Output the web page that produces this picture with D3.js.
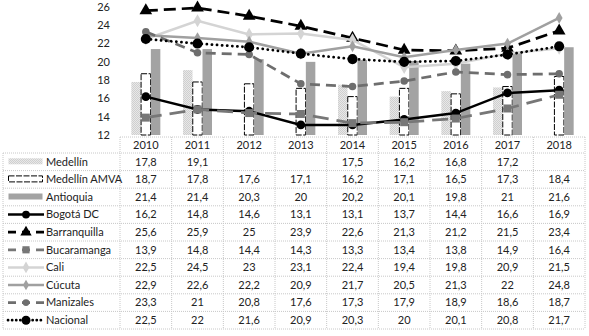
<!DOCTYPE html>
<html>
<head>
<meta charset="utf-8">
<script src="https://cdn.jsdelivr.net/npm/d3@7"></script>
<style>
  body { margin: 0; background: #fff; }
  svg { font-family: Lato, "Open Sans", sans-serif; }
</style>
</head>
<body>
<svg id="chart"></svg>
<script>
// datos
const years = ["2010", "2011", "2012", "2013", "2014", "2015", "2016", "2017", "2018"];
const medellin = [17.8, 19.1, null, null, 17.5, 16.2, 16.8, 17.2, null];
const medellinAMVA = [18.7, 17.8, 17.6, 17.1, 16.2, 17.1, 16.5, 17.3, 18.4];
const antioquia = [21.4, 21.4, 20.3, 20, 20.2, 20.1, 19.8, 21, 21.6];
const bogota = [16.2, 14.8, 14.6, 13.1, 13.1, 13.7, 14.4, 16.6, 16.9];
const barranquilla = [25.6, 25.9, 25, 23.9, 22.6, 21.3, 21.2, 21.5, 23.4];
const bucaramanga = [13.9, 14.8, 14.4, 14.3, 13.3, 13.4, 13.8, 14.9, 16.4];
const cali = [22.5, 24.5, 23, 23.1, 22.4, 19.4, 19.8, 20.9, 21.5];
const cucuta = [22.9, 22.6, 22.2, 20.9, 21.7, 20.5, 21.3, 22, 24.8];
const manizales = [23.3, 21, 20.8, 17.6, 17.3, 17.9, 18.9, 18.6, 18.7];
const nacional = [22.5, 22, 21.6, 20.9, 20.3, 20, 20.1, 20.8, 21.7];
const yTicks = [12, 14, 16, 18, 20, 22, 24, 26];

const width = 589, height = 336;
const svg = d3.select("#chart").attr("width", width).attr("height", height);

const plotLeft = 120, plotRight = 585, plotTop = 7, plotBottom = 135;
const rowTop = 137, headH = 16, rowH = 17.6;

const x = d3.scaleBand().domain(years).range([plotLeft, plotRight]);
const y = d3.scaleLinear().domain([12, 26]).range([plotBottom, plotTop]);

// patron Medellín
const defs = svg.append("defs");
const pat = defs.append("pattern").attr("id", "dots")
  .attr("width", 2).attr("height", 2).attr("patternUnits", "userSpaceOnUse");
pat.append("rect").attr("width", 2).attr("height", 2).attr("fill", "#e8e8e8");
pat.append("rect").attr("width", 1).attr("height", 1).attr("fill", "#cfcfcf");
pat.append("rect").attr("x", 1).attr("y", 1).attr("width", 1).attr("height", 1).attr("fill", "#cfcfcf");

const barSeries = [
  { name: "Medellín", values: medellin, fill: "url(#dots)", stroke: "none", dash: null },
  { name: "Medellín AMVA", values: medellinAMVA, fill: "#fff", stroke: "#000", dash: "6,1.5" },
  { name: "Antioquia", values: antioquia, fill: "#a3a3a3", stroke: "none", dash: null }
];

const lineSeries = [
  { name: "Bogotá DC", values: bogota, color: "#000", width: 2.5, dash: null, sym: d3.symbolCircle, size: 60 },
  { name: "Barranquilla", values: barranquilla, color: "#000", width: 2.75, dash: "12,6", sym: d3.symbolTriangle, size: 70 },
  { name: "Bucaramanga", values: bucaramanga, color: "#777", width: 2.75, dash: "16,8", sym: d3.symbolSquare, size: 64 },
  { name: "Cali", values: cali, color: "#d4d4d4", width: 2.5, dash: null, sym: d3.symbolDiamond, size: 50 },
  { name: "Cúcuta", values: cucuta, color: "#a0a0a0", width: 2.5, dash: null, sym: d3.symbolDiamond, size: 40 },
  { name: "Manizales", values: manizales, color: "#6e6e6e", width: 2.75, dash: "10,6", sym: d3.symbolCircle, size: 45 },
  { name: "Nacional", values: nacional, color: "#000", width: 2.75, dash: "0.1,5", sym: d3.symbolCircle, size: 80 }
];

// barras
const bw = 9.5;
const offsets = [-14.5, -4.75, 5];
barSeries.forEach((s, i) => {
  svg.append("g").selectAll("rect")
    .data(years.map((yr, j) => ({ yr, v: s.values[j] })).filter(d => d.v != null))
    .join("rect")
    .attr("x", d => x(d.yr) + x.bandwidth() / 2 + offsets[i])
    .attr("y", d => y(d.v))
    .attr("width", bw)
    .attr("height", d => plotBottom - y(d.v))
    .attr("fill", s.fill)
    .attr("stroke", s.stroke)
    .attr("stroke-width", 1)
    .attr("stroke-dasharray", s.dash);
});

// lineas
const line = d3.line()
  .x((d, i) => x(years[i]) + x.bandwidth() / 2)
  .y(d => y(d));

lineSeries.forEach(s => {
  const g = svg.append("g");
  g.append("path")
    .attr("d", line(s.values))
    .attr("fill", "none")
    .attr("stroke", s.color)
    .attr("stroke-width", s.width)
    .attr("stroke-linecap", s.dash && s.dash.startsWith("0.1") ? "round" : "butt")
    .attr("stroke-dasharray", s.dash);
  g.selectAll("path.m")
    .data(s.values)
    .join("path")
    .attr("class", "m")
    .attr("transform", (d, i) => `translate(${x(years[i]) + x.bandwidth() / 2},${y(d)})`)
    .attr("d", d3.symbol(s.sym, s.size))
    .attr("fill", s.color);
});

// eje Y
svg.append("g").selectAll("text")
  .data(yTicks)
  .join("text")
  .attr("x", 110)
  .attr("y", d => y(d))
  .attr("dy", "0.35em")
  .attr("text-anchor", "end")
  .attr("font-size", 11)
  .attr("fill", "#222")
  .text(d => d);

// tabla
const grid = "#c8c8c8";
const tbl = svg.append("g");
const nRows = barSeries.length + lineSeries.length;
const tableBottom = rowTop + headH + nRows * rowH;

// lineas horizontales
tbl.append("line").attr("x1", plotLeft).attr("x2", plotRight).attr("y1", rowTop).attr("y2", rowTop)
  .attr("stroke", grid).attr("stroke-dasharray", "1,1");
d3.range(nRows + 1).forEach(r => {
  const yy = rowTop + headH + r * rowH;
  tbl.append("line").attr("x1", 3).attr("x2", plotRight).attr("y1", yy).attr("y2", yy)
    .attr("stroke", grid).attr("stroke-dasharray", "1,1");
});
// lineas verticales
tbl.append("line").attr("x1", 3).attr("x2", 3).attr("y1", rowTop + headH).attr("y2", tableBottom)
  .attr("stroke", grid).attr("stroke-dasharray", "1,1");
years.concat([null]).forEach(yr => {
  const xx = yr ? x(yr) : plotRight;
  tbl.append("line").attr("x1", xx).attr("x2", xx).attr("y1", rowTop).attr("y2", tableBottom)
    .attr("stroke", grid).attr("stroke-dasharray", "1,1");
});

// encabezado
tbl.selectAll("text.yr")
  .data(years)
  .join("text")
  .attr("class", "yr")
  .attr("x", d => x(d) + x.bandwidth() / 2)
  .attr("y", rowTop + headH / 2)
  .attr("dy", "0.35em")
  .attr("text-anchor", "middle")
  .attr("font-size", 11)
  .attr("fill", "#222")
  .text(d => d);

const fmt = v => v == null ? "" : String(v).replace(".", ",");
const allSeries = barSeries.map(s => ({ ...s, type: "bar" })).concat(lineSeries.map(s => ({ ...s, type: "line" })));

allSeries.forEach((s, r) => {
  const cy = rowTop + headH + r * rowH + rowH / 2;
  const row = tbl.append("g");
  // clave de leyenda
  if (s.type === "bar") {
    row.append("rect")
      .attr("x", 8.5).attr("y", cy - 3.5).attr("width", 34).attr("height", 6)
      .attr("fill", s.fill).attr("stroke", s.stroke).attr("stroke-dasharray", s.dash);
  } else {
    row.append("line")
      .attr("x1", 8).attr("x2", 44).attr("y1", cy).attr("y2", cy)
      .attr("stroke", s.color).attr("stroke-width", s.width)
      .attr("stroke-linecap", s.dash && s.dash.startsWith("0.1") ? "round" : "butt")
      .attr("stroke-dasharray", s.dash ? (s.dash.startsWith("0.1") ? "0.1,4" : "8,6") : null);
    row.append("path")
      .attr("transform", `translate(26,${cy})`)
      .attr("d", d3.symbol(s.sym, s.size * 0.8))
      .attr("fill", s.color);
  }
  row.append("text")
    .attr("x", 46).attr("y", cy).attr("dy", "0.35em")
    .attr("font-size", 11).attr("fill", "#222")
    .text(s.name);
  row.selectAll("text.v")
    .data(s.values)
    .join("text")
    .attr("class", "v")
    .attr("x", (d, i) => x(years[i]) + x.bandwidth() / 2)
    .attr("y", cy).attr("dy", "0.35em")
    .attr("text-anchor", "middle")
    .attr("font-size", 11).attr("fill", "#222")
    .text(fmt);
});
</script>
</body>
</html>
